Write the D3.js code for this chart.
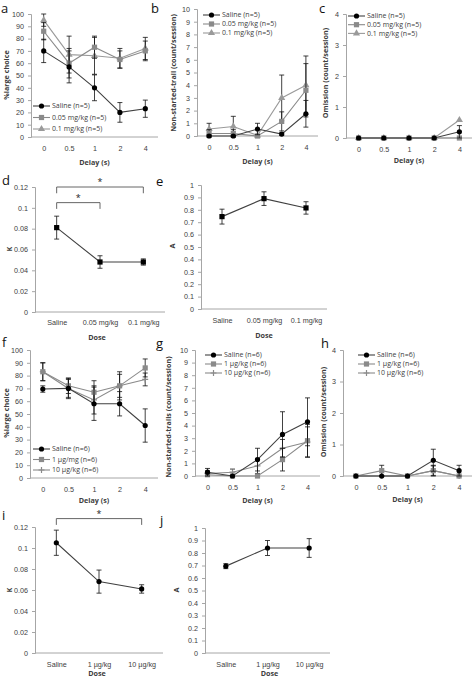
<!DOCTYPE html>
<html>
<head>
<meta charset="utf-8">
<script src="https://cdn.jsdelivr.net/npm/d3@7"></script>
<style>
  body { margin: 0; background: #fff; }
  svg { display: block; font-family: "Open Sans", "Liberation Sans", sans-serif; }
</style>
</head>
<body>
<svg id="fig" width="474" height="678"></svg>
<script>
// categories
const delays = ["0", "0.5", "1", "2", "4"];
const dosesMg = ["Saline", "0.05 mg/kg", "0.1 mg/kg"];
const dosesUg = ["Saline", "1 µg/kg", "10 µg/kg"];
const legendMg = ["Saline (n=5)", "0.05 mg/kg (n=5)", "0.1 mg/kg (n=5)"];
const legendF = ["Saline (n=6)", "1 µg/mg (n=6)", "10   µg/kg (n=6)"];
const legendUg = ["Saline (n=6)", "1 µg/kg (n=6)", "10 µg/kg (n=6)"];

// a: %large choice, mg/kg
const aSaline = [70, 57, 40, 20, 23];
const aSalineErr = [9.5, 13, 10.5, 8, 7];
const aLow = [86, 60, 73, 63, 70];
const aLowErr = [7, 12, 9, 7, 8];
const aHigh = [95, 67, 66, 64, 72];
const aHighErr = [5, 15, 15, 8, 9];

// b: non-started trials, mg/kg
const bSaline = [0, 0, 0.55, 0.15, 1.75];
const bSalineErr = [0.05, 0.05, 0.45, 0.1, 1.05];
const bLow = [0.2, 0.2, 0, 1.15, 3.6];
const bLowErr = [0.3, 0.3, 0, 0.75, 2.1];
const bHigh = [0.55, 0.75, 0.05, 3.0, 4.0];
const bHighErr = [0.45, 0.8, 0.05, 1.8, 2.3];

// c: omission, mg/kg
const cSaline = [0, 0, 0, 0, 0.2];
const cSalineErr = [0, 0, 0, 0, 0.2];
const cLow = [0, 0, 0, 0, 0];
const cLowErr = [0, 0, 0, 0, 0];
const cHigh = [0, 0, 0, 0, 0.58];
const cHighErr = [0, 0, 0, 0, 0];

// d, e: K and A, mg/kg
const dK = [0.081, 0.048, 0.048];
const dKErr = [0.011, 0.006, 0.003];
const eA = [0.745, 0.89, 0.815];
const eAErr = [0.06, 0.055, 0.05];

// f: %large choice, µg/kg
const fSaline = [69.5, 70, 58, 58, 41];
const fSalineErr = [2.5, 8, 13, 9.5, 13];
const fLow = [83, 72, 67, 72, 86];
const fLowErr = [7, 6, 9, 11, 7];
const fHigh = [83, 70, 61, 72, 77];
const fHighErr = [7, 7, 11, 9, 5];

// g: non-started trials, µg/kg
const gSaline = [0.3, 0, 1.3, 3.3, 4.3];
const gSalineErr = [0.3, 0, 0.9, 1.8, 1.9];
const gLow = [0.1, 0, 0, 1.3, 2.8];
const gLowErr = [0.1, 0, 0, 0.9, 1.3];
const gHigh = [0.2, 0.3, 0.8, 2.2, 2.7];
const gHighErr = [0.2, 0.25, 0.6, 0.7, 1.2];

// h: omission, µg/kg
const hSaline = [0, 0, 0, 0.5, 0.17];
const hSalineErr = [0, 0, 0, 0.35, 0.17];
const hLow = [0, 0.17, 0, 0.17, 0];
const hLowErr = [0, 0.17, 0, 0.17, 0];
const hHigh = [0, 0, 0, 0.17, 0];
const hHighErr = [0, 0, 0, 0.15, 0];

// i, j: K and A, µg/kg
const iK = [0.105, 0.068, 0.061];
const iKErr = [0.012, 0.011, 0.004];
const jA = [0.695, 0.84, 0.84];
const jAErr = [0.02, 0.06, 0.075];

const svg = d3.select("#fig");
const axisColor = "#a6a6a6";
const textColor = "#404040";

function series(name, values, errs, marker, color, lineColor) {
  return { name, values, errs, marker, color, lineColor };
}

function drawMarker(g, type, x, y, color) {
  if (type === "circle") {
    g.append("circle").attr("cx", x).attr("cy", y).attr("r", 2.6).attr("fill", color);
  } else if (type === "square") {
    g.append("rect").attr("x", x - 2.6).attr("y", y - 2.6).attr("width", 5.2).attr("height", 5.2).attr("fill", color);
  } else if (type === "triangle") {
    g.append("path").attr("d", d3.symbol(d3.symbolTriangle, 22)()).attr("transform", `translate(${x},${y})`).attr("fill", color);
  } else if (type === "plus") {
    g.append("path").attr("d", `M${x - 3},${y}H${x + 3}M${x},${y - 3}V${y + 3}`).attr("stroke", color).attr("stroke-width", 1.2);
  }
}

function panel(p) {
  const g = svg.append("g");
  const x = d3.scalePoint().domain(p.cats).range([p.left, p.right]).padding(0.5);
  const y = d3.scaleLinear().domain(p.domain).range([p.bottom, p.top]);

  // y axis
  const ya = g.append("g").attr("transform", `translate(${p.left},0)`)
    .call(d3.axisLeft(y).tickValues(p.ticks).tickSize(3).tickPadding(4).tickFormat(p.fmt));
  ya.select(".domain").attr("stroke", axisColor);
  ya.selectAll(".tick line").attr("stroke", axisColor);
  ya.selectAll("text").attr("fill", textColor).attr("font-size", 7.2);

  // x axis
  const xa = g.append("g").attr("transform", `translate(0,${p.bottom})`)
    .call(d3.axisBottom(x).tickSize(0).tickPadding(p.xPad || 9));
  xa.select(".domain").attr("stroke", axisColor).attr("d", `M${p.left},0H${p.right}`);
  xa.selectAll("text").attr("fill", textColor).attr("font-size", 7.2);

  // titles
  g.append("text").attr("x", (p.left + p.right) / 2 + (p.xTitleDx || 0)).attr("y", p.xTitleY)
    .attr("text-anchor", "middle").attr("font-size", 7.2).attr("font-weight", "bold")
    .attr("fill", textColor).text(p.xTitle);
  g.append("text").attr("transform", `translate(${p.yTitleX},${p.yTitleY}) rotate(-90)`)
    .attr("text-anchor", "middle").attr("font-size", p.yTitleSize || 7.2).attr("font-weight", "bold")
    .attr("fill", textColor).text(p.yTitle);
  g.append("text").attr("x", p.labelX).attr("y", p.labelY).attr("font-size", 13)
    .attr("fill", "#111").text(p.label);

  // series
  p.series.forEach(s => {
    const pts = s.values.map((v, i) => [x(p.cats[i]), y(v)]);
    g.append("path").attr("d", d3.line()(pts)).attr("fill", "none")
      .attr("stroke", s.lineColor).attr("stroke-width", 1.1);
    s.values.forEach((v, i) => {
      const e = s.errs[i];
      if (e > 0) {
        const cx = x(p.cats[i]);
        const y0 = y(v - e), y1 = y(v + e);
        g.append("path").attr("d", `M${cx},${y0}V${y1}M${cx - 2.5},${y0}H${cx + 2.5}M${cx - 2.5},${y1}H${cx + 2.5}`)
          .attr("stroke", "#111").attr("stroke-width", 0.8).attr("fill", "none");
      }
    });
    pts.forEach(([px, py]) => drawMarker(g, s.marker, px, py, s.color));
  });

  // legend
  if (p.legend) {
    p.legend.names.forEach((name, i) => {
      const s = p.series[p.series.length - 1 - i];
      const ly = p.legend.y + i * p.legend.dy;
      g.append("line").attr("x1", p.legend.x).attr("x2", p.legend.x + 17)
        .attr("y1", ly).attr("y2", ly).attr("stroke", s.lineColor).attr("stroke-width", 1.1);
      drawMarker(g, s.marker, p.legend.x + 8.5, ly, s.color);
      g.append("text").attr("x", p.legend.x + 19).attr("y", ly).attr("dy", "0.35em")
        .attr("font-size", 7).attr("fill", textColor).text(name);
    });
  }

  // significance brackets
  (p.brackets || []).forEach(b => {
    const x0 = x(p.cats[b.from]), x1 = x(p.cats[b.to]);
    const yb = y(b.at), ye = y(b.at - b.drop);
    g.append("path").attr("d", `M${x0},${ye}V${yb}H${x1}V${ye}`)
      .attr("stroke", "#555").attr("stroke-width", 0.9).attr("fill", "none");
    g.append("text").attr("x", (x0 + x1) / 2).attr("y", yb - 2).attr("text-anchor", "middle")
      .attr("font-size", 9).attr("fill", "#222").text("*");
  });
}

const black = "#000", dark = "#404040", gray = "#8a8a8a", gray2 = "#9a9a9a";
const f2 = d => String(+d.toFixed(2));

const mgSeries = (s, se, l, le, h, he) => [
  series("high", h, he, "triangle", gray2, gray2),
  series("low", l, le, "square", gray, gray),
  series("saline", s, se, "circle", black, dark)
];
const ugSeries = (s, se, l, le, h, he) => [
  series("high", h, he, "plus", gray, gray),
  series("low", l, le, "square", gray, gray),
  series("saline", s, se, "circle", black, dark)
];

// row 1
panel({ cats: delays, left: 31, right: 158, top: 14, bottom: 137, domain: [0, 100], ticks: d3.range(0, 101, 10),
  fmt: f2, xTitle: "Delay (s)", xTitleY: 165, yTitle: "%large choice", yTitleX: 9, yTitleY: 75,
  label: "a", labelX: 1, labelY: 13,
  series: mgSeries(aSaline, aSalineErr, aLow, aLowErr, aHigh, aHighErr),
  legend: { names: legendMg, x: 33, y: 106, dy: 11.5 } });

panel({ cats: delays, left: 197, right: 318, top: 9, bottom: 136, domain: [0, 10], ticks: d3.range(0, 11, 1),
  fmt: f2, xTitle: "Delay (s)", xTitleY: 164, yTitle: "Non-started-trail (count/session)", yTitleX: 176, yTitleY: 73,
  label: "b", labelX: 151, labelY: 13,
  series: mgSeries(bSaline, bSalineErr, bLow, bLowErr, bHigh, bHighErr),
  legend: { names: legendMg, x: 203, y: 15, dy: 9 } });

panel({ cats: delays, left: 346, right: 472, top: 14, bottom: 138, domain: [0, 4], ticks: d3.range(0, 5, 1),
  fmt: f2, xTitle: "Delay (s)", xTitleY: 163, yTitle: "Omission (count/session)", yTitleX: 328, yTitleY: 73,
  label: "c", labelX: 319, labelY: 13,
  series: mgSeries(cSaline, cSalineErr, cLow, cLowErr, cHigh, cHighErr),
  legend: { names: legendMg, x: 348, y: 16, dy: 8.7 } });

// row 2
panel({ cats: dosesMg, left: 35, right: 165, top: 187, bottom: 312, domain: [0, 0.12], ticks: d3.range(0, 0.121, 0.02),
  fmt: f2, xTitle: "Dose", xTitleY: 340, xTitleDx: -3, yTitle: "K", yTitleX: 12, yTitleY: 249, xPad: 8,
  label: "d", labelX: 2, labelY: 185,
  series: [series("k", dK, dKErr, "square", black, dark)],
  brackets: [{ from: 0, to: 2, at: 0.12, drop: 0.006 }, { from: 0, to: 1, at: 0.105, drop: 0.006 }] });

panel({ cats: dosesMg, left: 201, right: 327, top: 185, bottom: 309, domain: [0, 1], ticks: d3.range(0, 1.01, 0.1),
  fmt: f2, xTitle: "Dose", xTitleY: 338, yTitle: "A", yTitleX: 175, yTitleY: 246, xPad: 9,
  label: "e", labelX: 156, labelY: 186,
  series: [series("a", eA, eAErr, "square", black, dark)] });

// row 3
panel({ cats: delays, left: 30, right: 158, top: 350, bottom: 478, domain: [0, 100], ticks: d3.range(0, 101, 10),
  fmt: f2, xTitle: "Delay (s)", xTitleY: 503, yTitle: "%large choice", yTitleX: 9, yTitleY: 413,
  label: "f", labelX: 2, labelY: 347,
  series: ugSeries(fSaline, fSalineErr, fLow, fLowErr, fHigh, fHighErr),
  legend: { names: legendF, x: 33, y: 449, dy: 10.5 } });

panel({ cats: delays, left: 195, right: 320, top: 350, bottom: 476, domain: [0, 10], ticks: d3.range(0, 11, 1),
  fmt: f2, xTitle: "Delay (s)", xTitleY: 503, yTitle: "Non-started-trails (count/session)", yTitleX: 171, yTitleY: 417,
  label: "g", labelX: 156, labelY: 348,
  series: ugSeries(gSaline, gSalineErr, gLow, gLowErr, gHigh, gHighErr),
  legend: { names: legendUg, x: 205, y: 355, dy: 9 } });

panel({ cats: delays, left: 343, right: 472, top: 350, bottom: 476, domain: [0, 4], ticks: d3.range(0, 5, 1),
  fmt: f2, xTitle: "Delay (s)", xTitleY: 502, yTitle: "Omission (count/session)", yTitleX: 326, yTitleY: 412,
  label: "h", labelX: 321, labelY: 348,
  series: ugSeries(hSaline, hSalineErr, hLow, hLowErr, hHigh, hHighErr),
  legend: { names: legendUg, x: 358, y: 355, dy: 9 } });

// row 4
panel({ cats: dosesUg, left: 35, right: 163, top: 527, bottom: 653, domain: [0, 0.12], ticks: d3.range(0, 0.121, 0.02),
  fmt: f2, xTitle: "Dose", xTitleY: 676, xTitleDx: -2, yTitle: "K", yTitleX: 12, yTitleY: 590, xPad: 9,
  label: "i", labelX: 2, labelY: 520,
  series: [series("k", iK, iKErr, "circle", black, dark)],
  brackets: [{ from: 0, to: 2, at: 0.128, drop: 0.006 }] });

panel({ cats: dosesUg, left: 205, right: 330, top: 528, bottom: 653, domain: [0, 1], ticks: d3.range(0, 1.01, 0.1),
  fmt: f2, xTitle: "Dose", xTitleY: 676, xTitleDx: 2, yTitle: "A", yTitleX: 179, yTitleY: 590, xPad: 9,
  label: "j", labelX: 160, labelY: 525,
  series: [series("a", jA, jAErr, "circle", black, dark)] });
</script>
</body>
</html>
